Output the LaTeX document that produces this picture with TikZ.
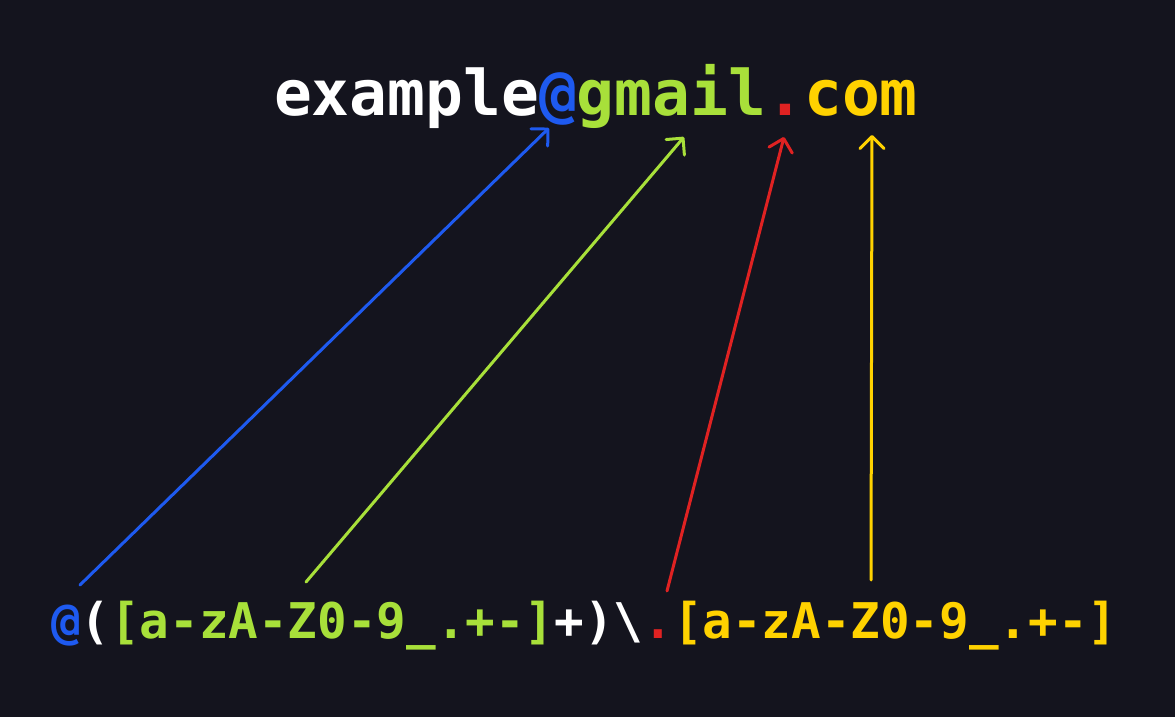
\documentclass[tikz,border=0pt]{standalone}
\usepackage{fontspec}
\setmonofont{DejaVu Sans Mono}
\usetikzlibrary{arrows.meta}
\definecolor{bg}{HTML}{14141E}
\definecolor{cblue}{HTML}{1E5AF0}
\definecolor{cgreen}{HTML}{A8E03A}
\definecolor{cred}{HTML}{E02222}
\definecolor{cyellow}{HTML}{FFD200}
\begin{document}
\begin{tikzpicture}[x=1pt,y=-1pt,
  txt/.style={inner sep=0pt, outer sep=0pt, anchor=base west},
  big/.style={txt, font=\ttfamily\bfseries\fontsize{62.9pt}{70pt}\selectfont},
  small/.style={txt, font=\ttfamily\bfseries\fontsize{49.2pt}{56pt}\selectfont},
  link/.style={line width=3pt, line cap=round, -{Straight Barb[length=12pt,width=24pt,line cap=round,line join=round]}}]
\fill[bg] (0,0) rectangle (1175,717);
\useasboundingbox (0,0) rectangle (1175,717);
% top address
\node[big, text=white] (user) at (274,115) {example};
\node[big, text=cblue] (at) at (user.base east) {@};
\node[big, text=cgreen] (dom) at (at.base east) {gmail};
\node[big, text=cred] (dot) at (dom.base east) {.};
\node[big, text=cyellow] (tld) at (dot.base east) {com};
% bottom regex
\node[small, text=cblue] (rat) at (51,638) {@};
\node[small, text=white] (rop) at (rat.base east) {(};
\node[small, text=cgreen] (rdom) at (rop.base east) {[a-zA-Z0-9\_.+-]};
\node[small, text=white] (rcl) at (rdom.base east) {+)\textbackslash};
\node[small, text=cred] (rdot) at (rcl.base east) {.};
\node[small, text=cyellow] (rtld) at (rdot.base east) {[a-zA-Z0-9\_.+-]};
% connector ends
\coordinate (s1) at (80,585);  \coordinate (e1) at (549,128);
\coordinate (s2) at (306,582); \coordinate (e2) at (684,137);
\coordinate (s3) at (667,591); \coordinate (e3) at (784,137);
\coordinate (s4) at (871,580); \coordinate (e4) at (872,135);
\draw[link, cblue] (s1) -- (e1);
\draw[link, cgreen] (s2) -- (e2);
\draw[link, cred] (s3) -- (e3);
\draw[link, cyellow] (s4) -- (e4);
\end{tikzpicture}
\end{document}
